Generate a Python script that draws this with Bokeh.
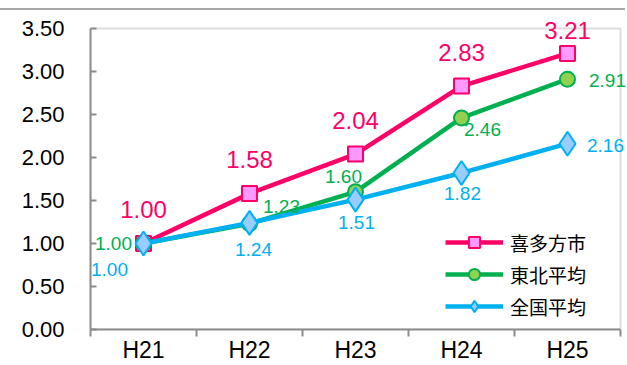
from bokeh.plotting import figure
from bokeh.models import (ColumnDataSource, FixedTicker, NumeralTickFormatter, LabelSet,
                          Legend, LegendItem, Range1d, Div, BoxAnnotation)
from bokeh.layouts import column
from bokeh.core.properties import value
from bokeh.embed import file_html
from bokeh.resources import INLINE

# ---------------- data ----------------
years = ["H21", "H22", "H23", "H24", "H25"]
kitakata = [1.00, 1.58, 2.04, 2.83, 3.21]
tohoku = [1.00, 1.23, 1.60, 2.46, 2.91]
zenkoku = [1.00, 1.24, 1.51, 1.82, 2.16]
series_names = ["喜多方市", "東北平均", "全国平均"]
y_ticks = [0.0, 0.5, 1.0, 1.5, 2.0, 2.5, 3.0, 3.5]
y_max = 3.5

# ---------------- label placement (screen px, right / up) ----------------
k_dx = [0, 0, 0, 0, 0]
k_dy = [34, 34, 34, 34, 23]
t_dx = [-30, 32, -12, 21, 40]
t_dy = [0, 17, 15, -12, -1]
z_dx = [-34, 4, 1, 1, 38]
z_dy = [-26, -27, -23, -21, -2]

# the visible box spans 302 px of a 320 px frame (vertically), 530 of 537 px (horizontally)
Y_EXT = y_max * 320.0 / 302.0
X_EXT = len(years) * 537.0 / 530.0

xs = [i + 0.5 for i in range(len(years))]
bounds = [float(i) for i in range(len(years) + 1)]

PINK, PINK_F = "#FF0066", "#FF99FF"
GREEN, GREEN_F = "#00B050", "#92D050"
BLUE, BLUE_F = "#00B0F0", "#99CCFF"
GRAY = "#8c8c8c"
NUMFONT = "Liberation Sans"
CJK = "Noto Sans CJK JP"

def fmt(v):
    return ["%.2f" % a for a in v]

src_k = ColumnDataSource(dict(x=xs, y=kitakata, t=fmt(kitakata), dx=k_dx, dy=k_dy))
src_t = ColumnDataSource(dict(x=xs, y=tohoku, t=fmt(tohoku), dx=t_dx, dy=t_dy))
src_z = ColumnDataSource(dict(x=xs, y=zenkoku, t=fmt(zenkoku), dx=z_dx, dy=z_dy))

p = figure(width=627, height=355, output_backend="svg", toolbar_location=None,
           x_range=Range1d(0, X_EXT), y_range=Range1d(0, Y_EXT),
           min_border_left=90, min_border_right=0, min_border_top=0, min_border_bottom=35)
p.grid.visible = False
p.outline_line_color = None
p.background_fill_color = "white"
p.border_fill_color = "white"

p.add_layout(BoxAnnotation(left=0, right=len(years), bottom=0, top=y_max,
                           fill_color=None, line_color=GRAY, line_width=2, level="underlay"))

# axes
p.yaxis.ticker = FixedTicker(ticks=y_ticks)
p.yaxis.bounds = (0, y_max)
p.yaxis.formatter = NumeralTickFormatter(format="0.00")
p.yaxis.major_tick_in = 6
p.yaxis.major_tick_out = 0
p.yaxis.minor_tick_line_color = None
p.yaxis.major_label_standoff = 26
p.yaxis.major_label_text_font = NUMFONT
p.yaxis.major_label_text_font_size = "22px"
p.yaxis.major_label_text_color = "black"
p.yaxis.axis_line_color = GRAY
p.yaxis.axis_line_width = 2
p.yaxis.major_tick_line_color = GRAY
p.yaxis.major_tick_line_width = 2

p.xaxis.ticker = FixedTicker(ticks=xs, minor_ticks=bounds)
p.xaxis.bounds = (0, len(years))
p.xaxis.major_label_overrides = {x: n for x, n in zip(xs, years)}
p.xaxis.major_tick_in = 0
p.xaxis.major_tick_out = 0
p.xaxis.minor_tick_in = 0
p.xaxis.minor_tick_out = 7
p.xaxis.minor_tick_line_color = GRAY
p.xaxis.minor_tick_line_width = 2
p.xaxis.major_label_standoff = 0
p.xaxis.major_label_text_font = NUMFONT
p.xaxis.major_label_text_font_size = "23px"
p.xaxis.major_label_text_color = "black"
p.xaxis.axis_line_color = GRAY
p.xaxis.axis_line_width = 2

# series
lk = p.line("x", "y", source=src_k, line_color=PINK, line_width=4.5)
mk = p.scatter("x", "y", source=src_k, marker="square", size=15,
               fill_color=PINK_F, line_color=PINK, line_width=2)
lt = p.line("x", "y", source=src_t, line_color=GREEN, line_width=4.5)
mt = p.scatter("x", "y", source=src_t, marker="circle", size=15,
               fill_color=GREEN_F, line_color=GREEN, line_width=2)
lz = p.line("x", "y", source=src_z, line_color=BLUE, line_width=4.5)
mz = p.scatter("x", "y", source=src_z, marker="diamond", size=24,
               fill_color=BLUE_F, line_color=BLUE, line_width=2)

for src, col, sz in [(src_k, PINK, "24px"), (src_t, GREEN, "19px"), (src_z, BLUE, "19px")]:
    p.add_layout(LabelSet(x="x", y="y", text="t", source=src, x_offset="dx", y_offset="dy",
                          text_align="center", text_baseline="middle",
                          text_color=col, text_font=value(NUMFONT), text_font_size=sz))

legend = Legend(items=[LegendItem(label=series_names[0], renderers=[lk, mk]),
                       LegendItem(label=series_names[1], renderers=[lt, mt]),
                       LegendItem(label=series_names[2], renderers=[lz, mz])],
                location=(355, 9), orientation="vertical",
                glyph_width=58, glyph_height=28, label_height=28, spacing=4, padding=4,
                label_standoff=7, border_line_color=None, background_fill_alpha=0,
                label_text_font=CJK, label_text_font_size="19px", label_text_color="black")
p.add_layout(legend)

topline = Div(text="", width=625, height=2, styles={"background-color": "#a6a6a6"},
              margin=(8, 0, 0, 0))
layout = column(topline, p, spacing=0)

open("out.html", "w").write(file_html(layout, INLINE))
